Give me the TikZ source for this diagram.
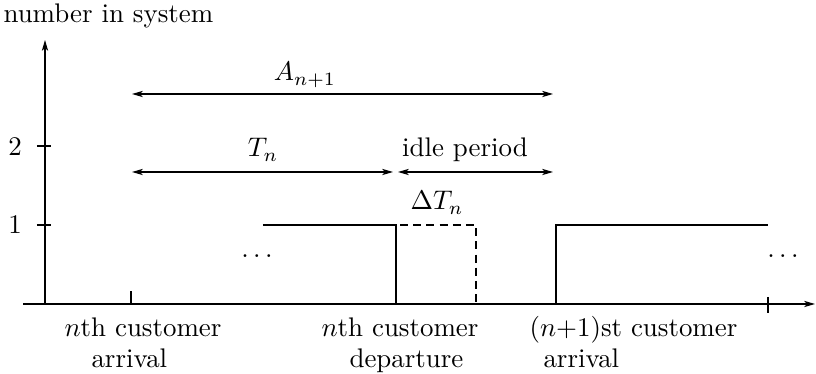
\documentclass[tikz,border=0pt]{standalone}
\usetikzlibrary{arrows.meta}
\begin{document}
\begin{tikzpicture}[x=0.3715pt,y=-0.3715pt,
  tip/.style={-{Stealth[length=4pt,width=2.3pt,inset=1pt]}},
  dbl/.style={{Stealth[length=4pt,width=2.3pt,inset=1pt]}-{Stealth[length=4pt,width=2.3pt,inset=1pt]}},
  lbl/.style={inner sep=0pt,anchor=base},
  lblw/.style={inner sep=0pt,anchor=base west},
  dsh/.style={dash pattern=on 3pt off 1.9pt}]
\useasboundingbox (0,0) rectangle (816,374);
% axes
\coordinate (o) at (45,304);
\coordinate (ytop) at (45,40);
\coordinate (xl) at (23,304);
\coordinate (xr) at (815,304);
\draw[tip] (o) -- (ytop);
\draw[tip] (xl) -- (xr);
\node[lblw] (ylab) at (3,23) {number in system};
% y ticks
\coordinate (t2a) at (37,146); \coordinate (t2b) at (51,146);
\coordinate (t1a) at (37,225); \coordinate (t1b) at (51,225);
\draw (t2a) -- (t2b);
\draw (t1a) -- (t1b);
\node[inner sep=0pt] (two) at (15,147) {2};
\node[inner sep=0pt] (one) at (15,225) {1};
% x ticks
\coordinate (xa) at (131,304); \coordinate (xat) at (131,291);
\draw (xa) -- (xat);
\coordinate (xe1) at (768,297); \coordinate (xe2) at (768,313);
\draw (xe1) -- (xe2);
% level lines
\coordinate (p1) at (263,225); \coordinate (p2) at (396,225); \coordinate (p3) at (396,304);
\draw (p1) -- (p2) -- (p3);
\coordinate (d1) at (400,225); \coordinate (d2) at (476,225); \coordinate (d3) at (476,304);
\draw[dsh] (d1) -- (d2) -- (d3);
\coordinate (q1) at (556,304); \coordinate (q2) at (556,225); \coordinate (q3) at (768,225);
\draw (q1) -- (q2) -- (q3);
% dimension arrows
\coordinate (a1) at (132,94); \coordinate (a2) at (553,94);
\draw[dbl] (a1) -- (a2);
\node[lbl] (alab) at (305,81) {$A_{n+1}$};
\coordinate (b1) at (132,172); \coordinate (b2) at (393,172);
\draw[dbl] (b1) -- (b2);
\node[lbl] (tlab) at (263,157) {$T_n$};
\coordinate (c1) at (398,172); \coordinate (c2) at (553,172);
\draw[dbl] (c1) -- (c2);
\node[lbl] (idle) at (465,157) {idle period};
\node[lbl] (dlab) at (437,210) {$\Delta T_n$};
% dots
\node[lbl] (dots1) at (257,258) {$\dots$};
\node[lbl] (dots2) at (783,258) {$\dots$};
% bottom labels
\node[lblw] (arr1) at (64,337) {$n$th customer};
\node[lblw] (arr1b) at (91,368) {arrival};
\node[lblw] (dep1) at (321,337) {$n$th customer};
\node[lblw] (dep1b) at (349,368) {departure};
\node[lblw] (arr2) at (529,337) {$(n{+}1)$st customer};
\node[lblw] (arr2b) at (543,368) {arrival};
\end{tikzpicture}
\end{document}
